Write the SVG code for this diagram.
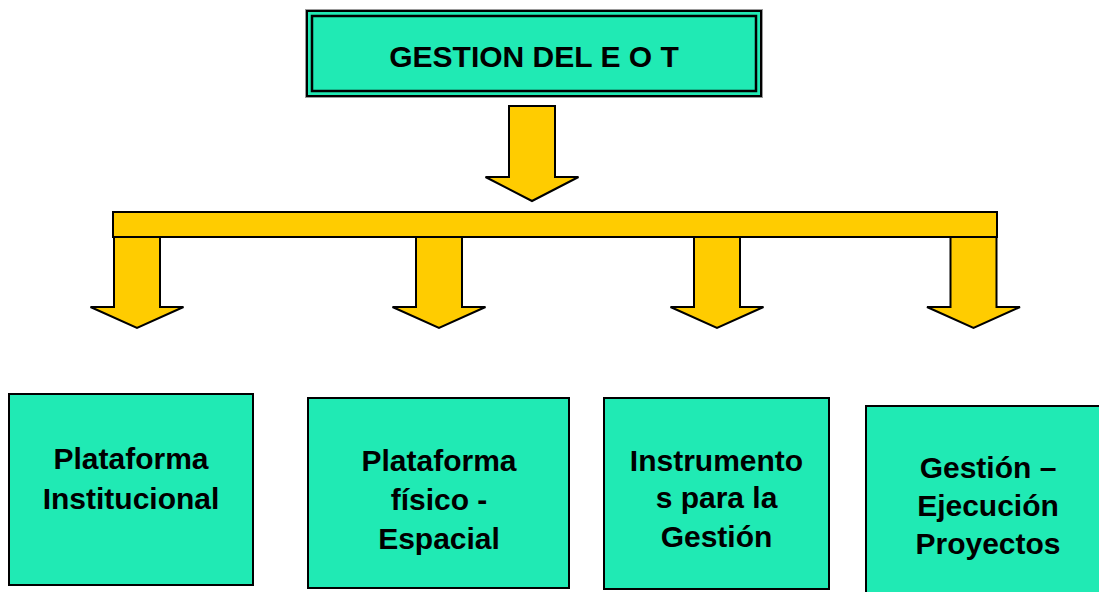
<svg xmlns="http://www.w3.org/2000/svg" width="1099" height="592" viewBox="0 0 1099 592">
<style>
.box{fill:#20EAB4;stroke:#000;stroke-width:2}
.arr{fill:#FFCC00;stroke:#000;stroke-width:2;stroke-linejoin:miter}
.t{font-family:"Liberation Sans",Arial,sans-serif;font-weight:bold;font-size:30px;fill:#000;text-anchor:middle}
</style>
<rect width="1099" height="592" fill="#fff"/>
<g id="connectors">
<path class="arr" d="M509,106 H555 V177 H578.5 L532,201 L485.5,177 H509 Z"/>
<rect class="arr" x="113" y="212" width="884" height="25"/>
<path class="arr" d="M114,237 H160 V307 H183.5 L137,328 L90.5,307 H114 Z"/>
<path class="arr" d="M416,237 H462 V307 H485.5 L439,328 L392.5,307 H416 Z"/>
<path class="arr" d="M694,237 H740 V307 H763.5 L717,328 L670.5,307 H694 Z"/>
<path class="arr" d="M950.5,237 H996.5 V307 H1020 L973.5,328 L927,307 H950.5 Z"/>
</g>
<g id="node-top">
<rect x="305.5" y="9.5" width="457" height="88" fill="none" stroke="#999" stroke-width="1"/>
<rect class="box" x="307" y="11" width="454" height="85"/>
<rect x="312" y="16" width="444" height="75" fill="none" stroke="#000" stroke-width="2.5"/>
<text class="t" x="534" y="67">GESTION DEL E O T</text>
</g>
<g id="node-1">
<rect class="box" x="9" y="394" width="244" height="191"/>
<text class="t" x="131" y="469">Plataforma</text>
<text class="t" x="131" y="509">Institucional</text>
</g>
<g id="node-2">
<rect class="box" x="308" y="398" width="261" height="190"/>
<text class="t" x="439" y="471">Plataforma</text>
<text class="t" x="439" y="510">físico -</text>
<text class="t" x="439" y="549">Espacial</text>
</g>
<g id="node-3">
<rect class="box" x="604" y="398" width="225" height="191"/>
<text class="t" x="716.5" y="471">Instrumento</text>
<text class="t" x="716.5" y="508">s para la</text>
<text class="t" x="716.5" y="547">Gestión</text>
</g>
<g id="node-4">
<rect class="box" x="866" y="406" width="244" height="200"/>
<text class="t" x="988" y="478">Gestión –</text>
<text class="t" x="988" y="516">Ejecución</text>
<text class="t" x="988" y="554">Proyectos</text>
</g>
</svg>
